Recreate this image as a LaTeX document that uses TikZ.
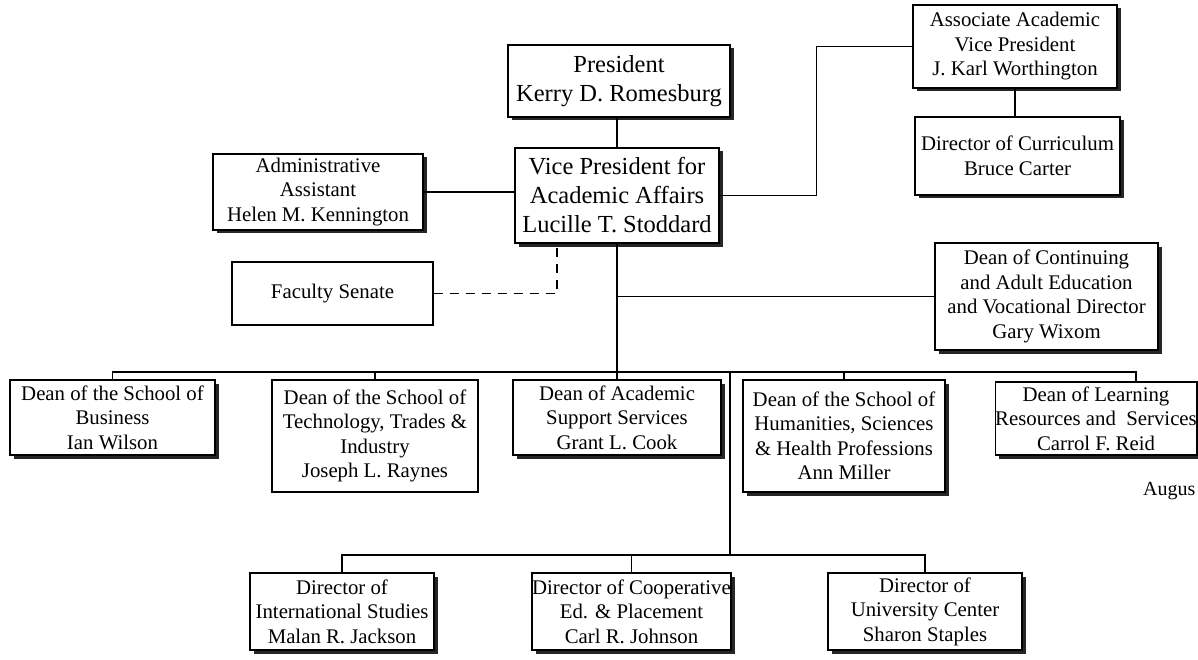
\documentclass[tikz,border=0pt]{standalone}
\usepackage{fontspec}
\setmainfont{Liberation Serif}
\usetikzlibrary{shadows}
\begin{document}
\begin{tikzpicture}[x=1pt,y=-1pt,
  box/.style={draw, line width=1.4pt, fill=white, inner sep=0pt, align=center, font=\fontsize{20.8}{24.5}\selectfont},
  shbox/.style={box, drop shadow={opacity=1, fill=black!85, shadow xshift=3.5pt, shadow yshift=-3.5pt}},
  bigbox/.style={shbox, font=\fontsize{24.5}{29}\selectfont},
  link/.style={line width=1.4pt},
  dlink/.style={line width=1.4pt, dash pattern=on 9pt off 7pt}]
\useasboundingbox (0,0) rectangle (1198,660);

% top level
\node[bigbox, minimum width=222pt, minimum height=72pt] (pres) at (619,81) {President\\Kerry D. Romesburg};
\node[bigbox, minimum width=204pt, minimum height=95pt] (vp) at (617,195.5) {Vice President for\\Academic Affairs\\Lucille T. Stoddard};
\node[shbox, minimum width=210pt, minimum height=76pt] (adm) at (318,192) {Administrative\\Assistant\\Helen M. Kennington};
\node[box, minimum width=201pt, minimum height=63pt] (fs) at (332.5,293.5) {Faculty Senate};
\node[shbox, minimum width=204pt, minimum height=83pt] (avp) at (1015,46.5) {Associate Academic\\Vice President\\J. Karl Worthington};
\node[shbox, minimum width=205pt, minimum height=78pt] (cur) at (1017.5,156) {Director of Curriculum\\Bruce Carter};
\node[shbox, minimum width=223pt, minimum height=107pt] (cont) at (1046.5,296.5) {Dean of Continuing\\and Adult Education\\and Vocational Director\\Gary Wixom};

% deans
\node[shbox, minimum width=205pt, minimum height=75pt] (bus) at (112.5,417.5) {Dean of the School of\\Business\\Ian Wilson};
\node[box, minimum width=206pt, minimum height=112pt] (tech) at (375,436) {Dean of the School of\\Technology, Trades \&\\Industry\\Joseph L. Raynes};
\node[shbox, minimum width=208pt, minimum height=75pt] (acad) at (617,417.5) {Dean of Academic\\Support Services\\Grant L. Cook};
\node[shbox, minimum width=202pt, minimum height=112pt] (hum) at (844,436) {Dean of the School of\\Humanities, Sciences\\\& Health Professions\\Ann Miller};
\node[shbox, minimum width=197pt, minimum height=73pt] (lrn) at (1096,418.5) {Dean of Learning\\Resources and~ Services\\Carrol F. Reid};

% directors
\node[shbox, minimum width=184pt, minimum height=77pt] (intl) at (342,611.5) {Director of\\International Studies\\Malan R. Jackson};
\node[shbox, minimum width=199pt, minimum height=77pt] (coop) at (631.5,611.5) {Director of Cooperative\\Ed. \& Placement\\Carl R. Johnson};
\node[shbox, minimum width=194pt, minimum height=77pt] (univ) at (925,611.5) {Director of\\University Center\\Sharon Staples};

\node[anchor=west, inner sep=0pt, font=\fontsize{20}{22}\selectfont] (aug) at (1143,491) {Augus};

% connectors
\draw[link] (pres.south -| vp.north) -- (vp.north);
\draw[link] (adm.east) -- (adm.east -| vp.west);
\draw[link] (vp.east) -- ++(97,0) |- (avp.west);
\draw[link] (avp.south) -- (avp.south |- cur.north);
\draw[dlink] (fs.east) -| ([xshift=-60pt]vp.south);
\draw[link] (vp.south) -- (acad.north);
\draw[link] (cont.west) -- (cont.west -| vp.south);

\coordinate (dl) at (617,372);
\coordinate (lrnd) at ([xshift=40pt]lrn.north);
\draw[link] (bus.north) -- (bus.north |- dl) -- (dl -| lrnd) -- (lrnd);
\draw[link] (tech.north) -- (tech.north |- dl);
\draw[link] (hum.north) -- (hum.north |- dl);

\coordinate (d2) at (730,372);
\coordinate (d3) at (730,555);
\draw[link] (d2) -- (d3);
\draw[link] (intl.north) -- (intl.north |- d3) -- (d3 -| univ.north) -- (univ.north);
\draw[link] (coop.north) -- (coop.north |- d3);
\end{tikzpicture}
\end{document}
